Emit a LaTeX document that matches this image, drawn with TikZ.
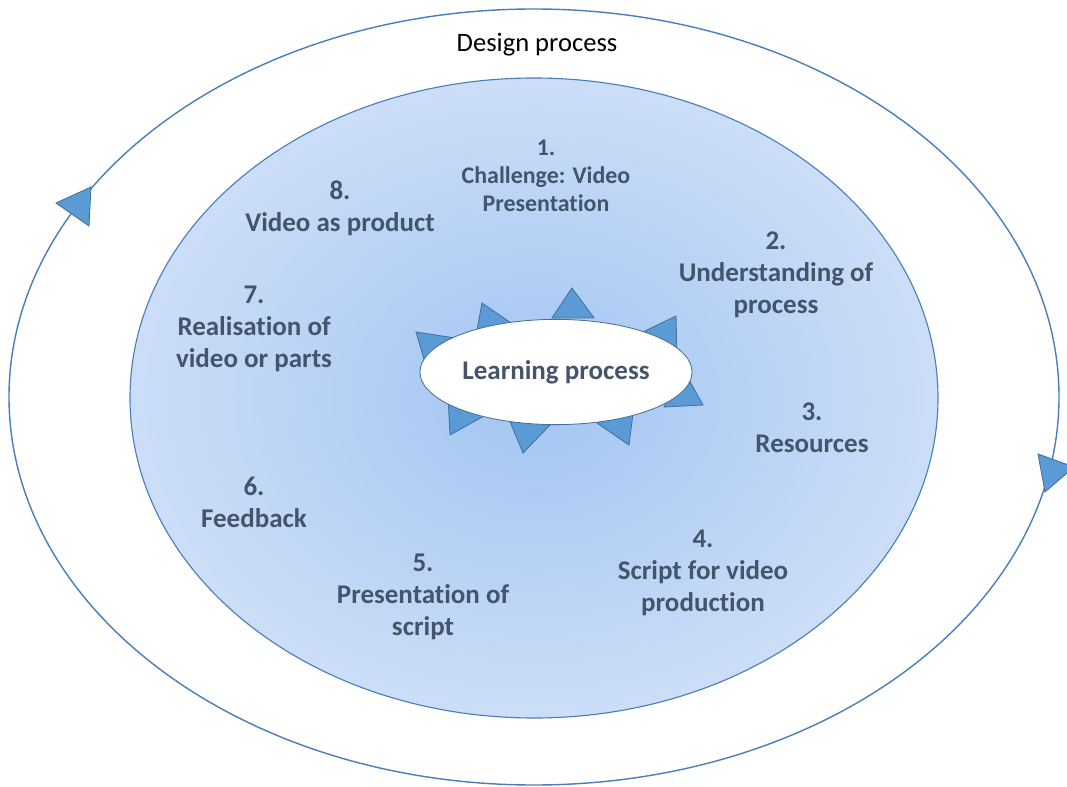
\documentclass[tikz,border=0pt]{standalone}
\usepackage{fontspec}
\setmainfont{Carlito}[Ligatures=NoCommon]
\usepackage{tikz}
\usetikzlibrary{shapes.geometric}
\definecolor{txtgray}{HTML}{44546A}
\definecolor{triblue}{HTML}{5B9BD5}
\definecolor{triedge}{HTML}{41719C}
\definecolor{ringblue}{HTML}{4A7EBB}
\definecolor{shadein}{HTML}{A2C5F2}
\definecolor{shadeout}{HTML}{CCDEF7}

\begin{document}
\begin{tikzpicture}[x=0.025cm, y=-0.025cm,
  tri/.style={fill=triblue, draw=triedge, line width=0.6pt},
  lbl/.style={text=txtgray, font=\bfseries\fontsize{19.2}{22.8}\selectfont, align=center, inner sep=0pt}]
\clip (0,0) rectangle (1067,787);
\fill[white] (0,0) rectangle (1067,787);

\draw[ringblue, line width=1pt] (534,397) ellipse (525 and 388);
\draw[tri] (56,203) -- (91,187) -- (89,226) -- cycle;
\draw[tri] (1038,454) -- (1074,467) -- (1045,492) -- cycle;
\node (design) [text=black, font=\fontsize{18.9}{22}\selectfont, inner sep=0pt, anchor=base] at (537,52) {Design process};

\shadedraw[ringblue, line width=0.8pt, inner color=shadein, outer color=shadeout] (534,398) ellipse (404 and 320);

\draw[tri] (572,288) -- (552,318) -- (594,318) -- cycle;
\draw[tri] (482,303) -- (475,341) -- (514,325) -- cycle;
\draw[tri] (416,332) -- (427,369) -- (455,338) -- cycle;
\draw[tri] (676,316) -- (641,333) -- (677,355) -- cycle;
\draw[tri] (703,405) -- (664,407) -- (684,371) -- cycle;
\draw[tri] (629,445) -- (597,423) -- (634,406) -- cycle;
\draw[tri] (523,453) -- (508,417) -- (550,425) -- cycle;
\draw[tri] (450,435) -- (448,396) -- (484,416) -- cycle;
\node (learn) [lbl, ellipse, draw=triedge, line width=0.6pt, fill=white, minimum width=6.8cm, minimum height=2.63cm] at (556,372) {Learning process};

\node (step1) [lbl, font=\bfseries\fontsize{17}{19.9}\selectfont] at (546,176) {1.\\Challenge: Video\\Presentation};
\node (step2) [lbl] at (776,275) {2.\\Understanding of\\process};
\node (step3) [lbl] at (812,428) {3.\\Resources};
\node (step4) [lbl] at (703,573) {4.\\Script for video\\production};
\node (step5) [lbl] at (423,597) {5.\\Presentation of\\script};
\node (step6) [lbl] at (254,502) {6.\\Feedback};
\node (step7) [lbl] at (254,329) {7.\\Realisation of\\video or parts};
\node (step8) [lbl] at (340,208) {8.\\Video as product};
\end{tikzpicture}
\end{document}
